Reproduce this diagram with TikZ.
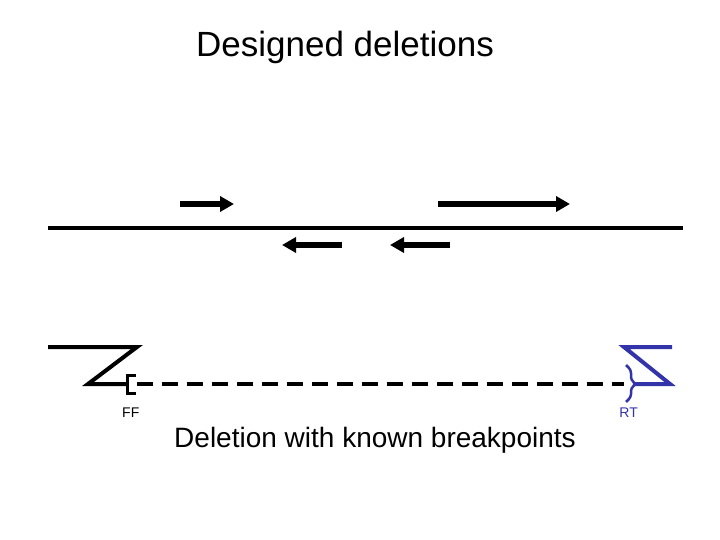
\documentclass[tikz,border=0pt]{standalone}
\usepackage{fontspec}
\setmainfont{Liberation Sans}
\usetikzlibrary{arrows.meta}
\definecolor{FrtBlue}{RGB}{51,51,170}
\tikzset{
  gene/.style={line width=5.5pt,-{Triangle[length=14pt,width=15pt]}},
  flank/.style={line width=4pt},
}

\begin{document}
\begin{tikzpicture}[x=1pt,y=-1pt]
  \useasboundingbox (0,0) rectangle (720,540);
  \node[anchor=base,inner sep=0,font=\fontsize{35}{42}\selectfont] (title) at (345,57) {Designed deletions};
  % chromosome and genes
  \draw[line width=4pt] (48,228)--(683,228);
  \draw[gene] (180,204)--(234,204);
  \draw[gene] (438,204)--(570,204);
  \draw[gene] (342,245)--(282,245);
  \draw[gene] (450,245)--(390,245);
  % deletion
  \draw[flank] (48,347)--(137,347)--(88,384)--(127,384);
  \draw[line width=3pt] (136,375)--(127,375)--(127,393)--(136,393);
  \draw[line width=4pt,dash pattern=on 16pt off 9pt] (137,384)--(624,384);
  \draw[flank,FrtBlue] (672,347)--(624,347)--(670,384)--(635,384);
  \draw[FrtBlue,line width=2.5pt,rounded corners=3pt] (626,365)--(631,370)--(631,380)--(636,384)
    --(631,388)--(631,397)--(626,402);
  \node[anchor=base west,inner sep=0,font=\fontsize{14}{17}\selectfont] (leftfrt) at (122,417) {FF};
  \node[anchor=base east,inner sep=0,font=\fontsize{14}{17}\selectfont,FrtBlue] (rightfrt) at (638,417) {RT};
  \node[anchor=base,inner sep=0,font=\fontsize{28}{34}\selectfont] (caption) at (375,447) {Deletion with known breakpoints};
\end{tikzpicture}
\end{document}
